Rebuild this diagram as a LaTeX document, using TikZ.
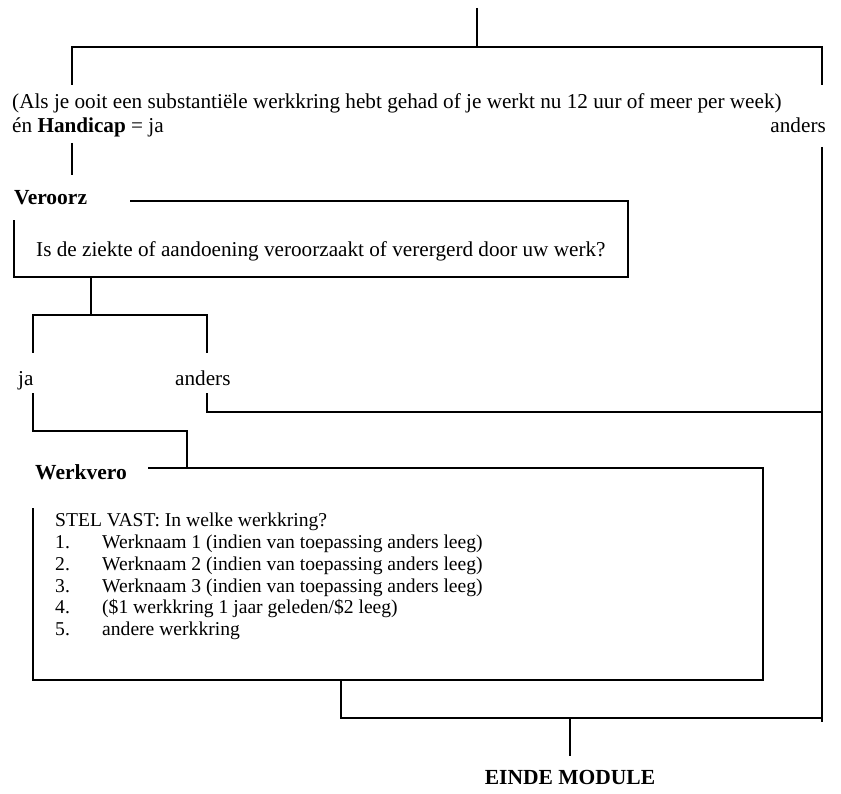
\documentclass[tikz,border=0pt]{standalone}
\usepackage{fontspec}
\setmainfont{Liberation Serif}
\usetikzlibrary{positioning}

\tikzset{
    wire/.style = {line width = 1.6pt},
    txt/.style = {inner sep = 0pt, anchor = base west, font = \fontsize{21.2}{24}\selectfont},
    item/.style = {txt, font = \fontsize{19.6}{22}\selectfont},
    hdr/.style = {txt, font = \fontsize{21.5}{24}\selectfont\bfseries}
}

\begin{document}
\begin{tikzpicture}[x=1pt, y=-1pt]
        \useasboundingbox (0,0) rectangle (841,794);

        \coordinate (entry) at (477,8);
        \coordinate (entryFork) at (477,47);
        \coordinate (condL) at (72,85);
        \coordinate (condR) at (822,85);
        \coordinate (condOut) at (72,143);
        \coordinate (condEnd) at (72,175);
        \coordinate (andersOut) at (822,147);
        \coordinate (andersEnd) at (822,722);

        \node[txt] (cond1) at (12,109) {(Als je ooit een substantiële werkkring hebt gehad of je werkt nu 12 uur of meer per week)};
        \node[txt] (cond2) at (12,133) {én \textbf{Handicap} = ja};
        \node[txt, anchor = base east] (andersTop) at (826,133) {anders};

        \node[hdr] (veroorzLbl) at (14,205) {Veroorz};
        \node[txt] (veroorzQ) at (36,257) {Is de ziekte of aandoening veroorzaakt of verergerd door uw werk?};
        \coordinate (vzTop) at (130,201);
        \coordinate (vzCorner) at (628,277);
        \coordinate (vzLeft) at (14,220);
        \coordinate (vzOut) at (91,277);
        \coordinate (vzFork) at (91,315);
        \coordinate (jaIn) at (33,353);
        \coordinate (andersIn) at (207,353);

        \node[txt] (jaLbl) at (18,385) {ja};
        \node[txt] (andersLbl) at (175,385) {anders};
        \coordinate (jaOut) at (33,393);
        \coordinate (jaBend) at (187,431);
        \coordinate (jaEnd) at (187,468);
        \coordinate (andersOut2) at (207,393);
        \coordinate (andersJoin) at (822,412);

        \node[hdr] (werkveroLbl) at (35,479) {Werkvero};
        \coordinate (wvTop) at (148,468);
        \coordinate (wvCorner) at (763,680);
        \coordinate (wvLeft) at (33,508);
        \coordinate (wvOut) at (341,680);
        \coordinate (wvJoin) at (822,718);
        \coordinate (endFork) at (570,718);
        \coordinate (endIn) at (570,756);

        \node[item] (ask) at (55,526) {STEL VAST: In welke werkkring?};
        \node[item] (n1) at (55,548) {1.};
        \node[item] (n2) at (55,570) {2.};
        \node[item] (n3) at (55,592) {3.};
        \node[item] (n4) at (55,613) {4.};
        \node[item] (n5) at (55,635) {5.};
        \node[item] (a1) at (102,548) {Werknaam 1 (indien van toepassing anders leeg)};
        \node[item] (a2) at (102,570) {Werknaam 2 (indien van toepassing anders leeg)};
        \node[item] (a3) at (102,592) {Werknaam 3 (indien van toepassing anders leeg)};
        \node[item] (a4) at (102,613) {(\$1 werkkring 1 jaar geleden/\$2 leeg)};
        \node[item] (a5) at (102,635) {andere werkkring};

        \node[hdr, anchor = base] (einde) at (570,784) {EINDE MODULE};

        \draw[wire] (entry) -- (entryFork);
        \draw[wire] (condL) |- (entryFork) -| (condR);
        \draw[wire] (condOut) -- (condEnd);
        \draw[wire] (andersOut) -- (andersEnd);
        \draw[wire] (vzTop) -| (vzCorner) -| (vzLeft);
        \draw[wire] (vzOut) -- (vzFork);
        \draw[wire] (jaIn) |- (vzFork) -| (andersIn);
        \draw[wire] (jaOut) |- (jaBend) -- (jaEnd);
        \draw[wire] (andersOut2) |- (andersJoin);
        \draw[wire] (wvTop) -| (wvCorner) -| (wvLeft);
        \draw[wire] (wvOut) |- (wvJoin);
        \draw[wire] (endFork) -- (endIn);
\end{tikzpicture}
\end{document}
